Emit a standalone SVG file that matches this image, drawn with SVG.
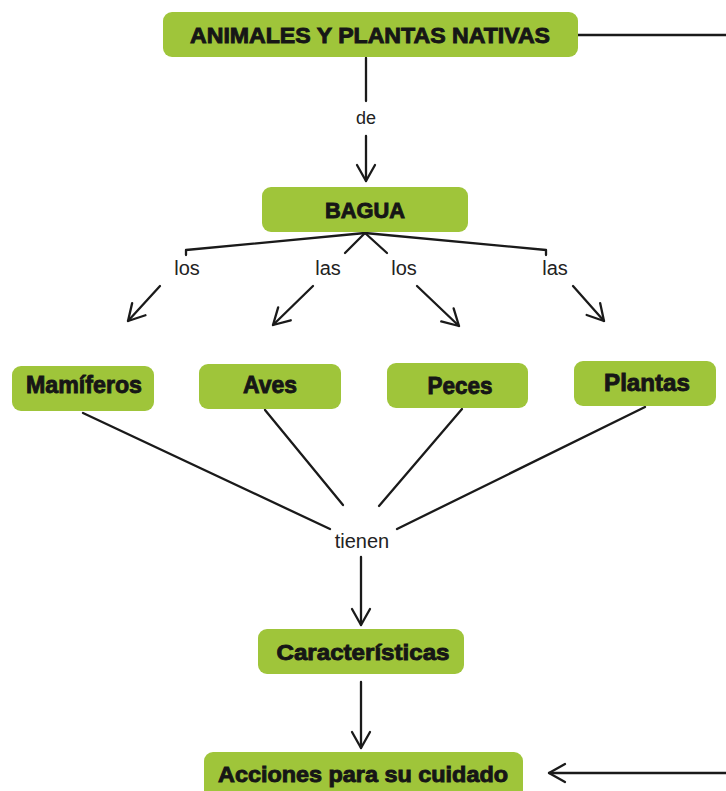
<svg xmlns="http://www.w3.org/2000/svg" width="726" height="791" viewBox="0 0 726 791">
  <defs>
    <marker id="arrow" viewBox="0 0 22 22" refX="20" refY="11" markerWidth="22" markerHeight="22" markerUnits="userSpaceOnUse" orient="auto">
      <path d="M4,2 L20,11 L4,20" fill="none" stroke="#1a1a1a" stroke-width="2.3" stroke-linecap="round" stroke-linejoin="round"/>
    </marker>
  </defs>
  <style>
    .box { fill: #9fc53a; }
    .title { font-family: "Liberation Sans", Arial, sans-serif; font-weight: bold; fill: #161616; stroke: #161616; stroke-width: 0.9; text-anchor: middle; }
    .lbl { font-family: "Liberation Sans", Arial, sans-serif; fill: #222; text-anchor: middle; }
    .wire { fill: none; stroke: #1a1a1a; stroke-width: 2.3; stroke-linecap: round; stroke-linejoin: round; }
  </style>
  <rect width="726" height="791" fill="#ffffff"/>

  <g id="connectors">
    <!-- title to the right edge, returning to the last node -->
    <path class="wire" d="M578,35 L726,35"/>
    <path class="wire" d="M726,773 L549,773" marker-end="url(#arrow)"/>
    <!-- de -->
    <path class="wire" d="M366,58 L366,101"/>
    <path class="wire" d="M366,136 L366,181" marker-end="url(#arrow)"/>
    <!-- fan out from BAGUA -->
    <path class="wire" d="M186,255 L186,250 L365,233 L546,250 L546,255"/>
    <path class="wire" d="M345,253 L365,233 L387,253"/>
    <path class="wire" d="M160,286 L128,321" marker-end="url(#arrow)"/>
    <path class="wire" d="M313,286 L273,325" marker-end="url(#arrow)"/>
    <path class="wire" d="M417,286 L459,326" marker-end="url(#arrow)"/>
    <path class="wire" d="M573,286 L604,321" marker-end="url(#arrow)"/>
    <!-- into tienen -->
    <path class="wire" d="M83,413 L330,529"/>
    <path class="wire" d="M265,410 L343,505"/>
    <path class="wire" d="M462,409 L379,506"/>
    <path class="wire" d="M645,407 L397,529"/>
    <path class="wire" d="M361,557 L361,625" marker-end="url(#arrow)"/>
    <path class="wire" d="M361,682 L361,748" marker-end="url(#arrow)"/>
    <!-- link words -->
    <text class="lbl" x="366" y="124" font-size="18">de</text>
    <text class="lbl" x="187" y="275" font-size="20">los</text>
    <text class="lbl" x="328" y="275" font-size="20">las</text>
    <text class="lbl" x="404" y="275" font-size="20">los</text>
    <text class="lbl" x="555" y="275" font-size="20">las</text>
    <text class="lbl" x="362" y="548" font-size="20">tienen</text>
  </g>

  <g id="n-animales">
    <rect class="box" x="163" y="12" width="415" height="45" rx="9"/>
    <text class="title" x="370" y="43" font-size="22" textLength="360" lengthAdjust="spacingAndGlyphs">ANIMALES Y PLANTAS NATIVAS</text>
  </g>
  <g id="n-bagua">
    <rect class="box" x="262" y="187" width="206" height="45" rx="9"/>
    <text class="title" x="365" y="218" font-size="22" textLength="80" lengthAdjust="spacingAndGlyphs">BAGUA</text>
  </g>
  <g id="n-mamiferos">
    <rect class="box" x="12" y="366" width="142" height="45" rx="9"/>
    <text class="title" x="84" y="393" font-size="24" textLength="116" lengthAdjust="spacingAndGlyphs">Mamíferos</text>
  </g>
  <g id="n-aves">
    <rect class="box" x="199" y="364" width="142" height="45" rx="9"/>
    <text class="title" x="270" y="393" font-size="24" textLength="54" lengthAdjust="spacingAndGlyphs">Aves</text>
  </g>
  <g id="n-peces">
    <rect class="box" x="387" y="363" width="141" height="45" rx="9"/>
    <text class="title" x="460" y="394" font-size="24" textLength="65" lengthAdjust="spacingAndGlyphs">Peces</text>
  </g>
  <g id="n-plantas">
    <rect class="box" x="574" y="361" width="142" height="45" rx="9"/>
    <text class="title" x="647" y="391" font-size="24" textLength="86" lengthAdjust="spacingAndGlyphs">Plantas</text>
  </g>
  <g id="n-caracteristicas">
    <rect class="box" x="258" y="629" width="206" height="45" rx="9"/>
    <text class="title" x="363" y="660" font-size="22" textLength="173" lengthAdjust="spacingAndGlyphs">Características</text>
  </g>
  <g id="n-acciones">
    <rect class="box" x="204" y="752" width="319" height="48" rx="9"/>
    <text class="title" x="363" y="782" font-size="22" textLength="290" lengthAdjust="spacingAndGlyphs">Acciones para su cuidado</text>
  </g>
</svg>
